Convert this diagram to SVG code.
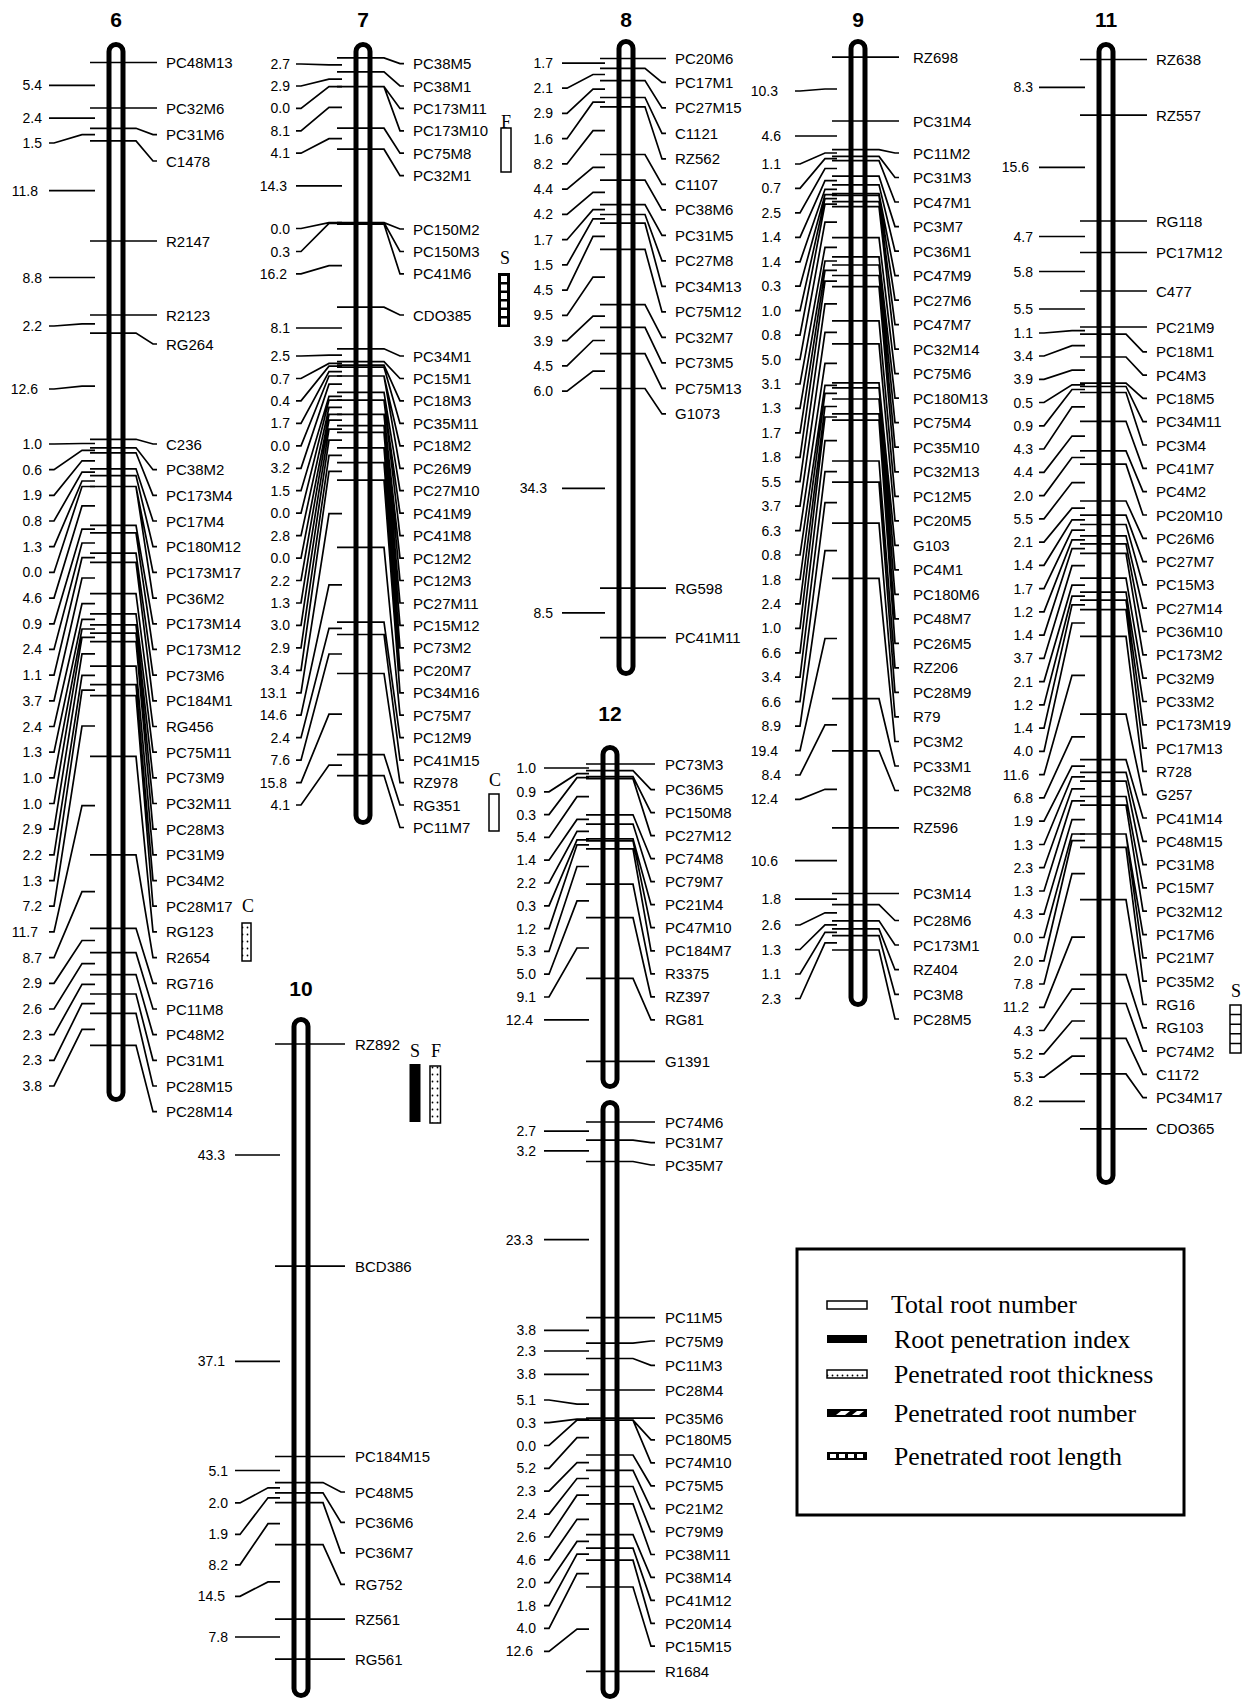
<svg xmlns="http://www.w3.org/2000/svg" width="1252" height="1703" viewBox="0 0 1252 1703">
<style>
.ttl{font:bold 21px "Liberation Sans",Arial,sans-serif;text-anchor:middle;fill:#000}
.m text{font:15px "Liberation Sans",Arial,sans-serif;fill:#000;dominant-baseline:central}
.d text{font:14px "Liberation Sans",Arial,sans-serif;fill:#000;text-anchor:end;dominant-baseline:central}
.tube{fill:#fff;stroke:#000;stroke-width:5}
.cn path{fill:none;stroke:#000;stroke-width:1.7}
.q{font:18px "Liberation Serif","Times New Roman",serif;text-anchor:middle;fill:#000}
.lg{font:25.8px "Liberation Serif","Times New Roman",serif;fill:#000;dominant-baseline:central}
</style>
<defs>
<pattern id="dots" width="5" height="7" patternUnits="userSpaceOnUse"><rect width="5" height="7" fill="#fff"/><circle cx="2.5" cy="3.5" r="0.9" fill="#000"/></pattern>
</defs>
<rect width="1252" height="1703" fill="#fff"/>

<g id="chr6" transform="translate(116 0)">
<text class="ttl" x="0" y="27">6</text>
<rect class="tube" x="-7" y="44.5" width="14" height="1055" rx="7"/>
<g class="m">
<text x="50" y="62.5">PC48M13</text><text x="50" y="108">PC32M6</text><text x="50" y="134.6">PC31M6</text><text x="50" y="161">C1478</text><text x="50" y="241">R2147</text><text x="50" y="315">R2123</text><text x="50" y="344">RG264</text><text x="50" y="444">C236</text><text x="50" y="469.7">PC38M2</text><text x="50" y="495.4">PC173M4</text><text x="50" y="521">PC17M4</text><text x="50" y="546.7">PC180M12</text><text x="50" y="572.4">PC173M17</text><text x="50" y="598.1">PC36M2</text><text x="50" y="623.8">PC173M14</text><text x="50" y="649.4">PC173M12</text><text x="50" y="675.1">PC73M6</text><text x="50" y="700.8">PC184M1</text><text x="50" y="726.5">RG456</text><text x="50" y="752.2">PC75M11</text><text x="50" y="777.8">PC73M9</text><text x="50" y="803.5">PC32M11</text><text x="50" y="829.2">PC28M3</text><text x="50" y="854.9">PC31M9</text><text x="50" y="880.6">PC34M2</text><text x="50" y="906.2">PC28M17</text><text x="50" y="931.9">RG123</text><text x="50" y="957.6">R2654</text><text x="50" y="983.3">RG716</text><text x="50" y="1009">PC11M8</text><text x="50" y="1034.6">PC48M2</text><text x="50" y="1060.3">PC31M1</text><text x="50" y="1086">PC28M15</text><text x="50" y="1111.7">PC28M14</text>
</g>
<g class="d">
<text x="-74" y="85.3">5.4</text><text x="-74" y="118.2">2.4</text><text x="-74" y="143">1.5</text><text x="-78" y="190.7">11.8</text><text x="-74" y="277.5">8.8</text><text x="-74" y="326">2.2</text><text x="-78" y="389">12.6</text><text x="-74" y="444">1.0</text><text x="-74" y="469.7">0.6</text><text x="-74" y="495.4">1.9</text><text x="-74" y="521">0.8</text><text x="-74" y="546.7">1.3</text><text x="-74" y="572.4">0.0</text><text x="-74" y="598.1">4.6</text><text x="-74" y="623.8">0.9</text><text x="-74" y="649.4">2.4</text><text x="-74" y="675.1">1.1</text><text x="-74" y="700.8">3.7</text><text x="-74" y="726.5">2.4</text><text x="-74" y="752.2">1.3</text><text x="-74" y="777.8">1.0</text><text x="-74" y="803.5">1.0</text><text x="-74" y="829.2">2.9</text><text x="-74" y="854.9">2.2</text><text x="-74" y="880.6">1.3</text><text x="-74" y="906.2">7.2</text><text x="-78" y="931.9">11.7</text><text x="-74" y="957.6">8.7</text><text x="-74" y="983.3">2.9</text><text x="-74" y="1009">2.6</text><text x="-74" y="1034.6">2.3</text><text x="-74" y="1060.3">2.3</text><text x="-74" y="1086">3.8</text>
</g>
</g>

<g id="chr7" transform="translate(363 0)">
<text class="ttl" x="0" y="27">7</text>
<rect class="tube" x="-7" y="44.5" width="14" height="778" rx="7"/>
<g class="m">
<text x="50" y="63.6">PC38M5</text><text x="50" y="86">PC38M1</text><text x="50" y="108.4">PC173M11</text><text x="50" y="130.8">PC173M10</text><text x="50" y="153.2">PC75M8</text><text x="50" y="175.6">PC32M1</text><text x="50" y="229">PC150M2</text><text x="50" y="251.5">PC150M3</text><text x="50" y="273.9">PC41M6</text><text x="50" y="315">CDO385</text><text x="50" y="356">PC34M1</text><text x="50" y="378.5">PC15M1</text><text x="50" y="400.9">PC18M3</text><text x="50" y="423.4">PC35M11</text><text x="50" y="445.8">PC18M2</text><text x="50" y="468.3">PC26M9</text><text x="50" y="490.7">PC27M10</text><text x="50" y="513.2">PC41M9</text><text x="50" y="535.6">PC41M8</text><text x="50" y="558.1">PC12M2</text><text x="50" y="580.5">PC12M3</text><text x="50" y="603">PC27M11</text><text x="50" y="625.4">PC15M12</text><text x="50" y="647.9">PC73M2</text><text x="50" y="670.3">PC20M7</text><text x="50" y="692.8">PC34M16</text><text x="50" y="715.2">PC75M7</text><text x="50" y="737.7">PC12M9</text><text x="50" y="760.1">PC41M15</text><text x="50" y="782.6">RZ978</text><text x="50" y="805">RG351</text><text x="50" y="827.5">PC11M7</text>
</g>
<g class="d">
<text x="-73" y="64">2.7</text><text x="-73" y="86">2.9</text><text x="-73" y="108.4">0.0</text><text x="-73" y="130.8">8.1</text><text x="-73" y="153.2">4.1</text><text x="-76" y="185.9">14.3</text><text x="-73" y="228.5">0.0</text><text x="-73" y="251.5">0.3</text><text x="-76" y="273.9">16.2</text><text x="-73" y="328">8.1</text><text x="-73" y="356">2.5</text><text x="-73" y="378.5">0.7</text><text x="-73" y="400.9">0.4</text><text x="-73" y="423.4">1.7</text><text x="-73" y="445.8">0.0</text><text x="-73" y="468.3">3.2</text><text x="-73" y="490.7">1.5</text><text x="-73" y="513.2">0.0</text><text x="-73" y="535.6">2.8</text><text x="-73" y="558.1">0.0</text><text x="-73" y="580.5">2.2</text><text x="-73" y="603">1.3</text><text x="-73" y="625.4">3.0</text><text x="-73" y="647.9">2.9</text><text x="-73" y="670.3">3.4</text><text x="-76" y="692.8">13.1</text><text x="-76" y="715.2">14.6</text><text x="-73" y="737.7">2.4</text><text x="-73" y="760.1">7.6</text><text x="-76" y="782.6">15.8</text><text x="-73" y="805">4.1</text>
</g>
</g>

<g id="chr8" transform="translate(626 0)">
<text class="ttl" x="0" y="27">8</text>
<rect class="tube" x="-7" y="41.5" width="14" height="632" rx="7"/>
<g class="m">
<text x="49" y="58.5">PC20M6</text><text x="49" y="82.4">PC17M1</text><text x="49" y="107.9">PC27M15</text><text x="49" y="133.4">C1121</text><text x="49" y="158.9">RZ562</text><text x="49" y="184.4">C1107</text><text x="49" y="209.9">PC38M6</text><text x="49" y="235.4">PC31M5</text><text x="49" y="260.9">PC27M8</text><text x="49" y="286.4">PC34M13</text><text x="49" y="311.9">PC75M12</text><text x="49" y="337.4">PC32M7</text><text x="49" y="362.9">PC73M5</text><text x="49" y="388.4">PC75M13</text><text x="49" y="413.9">G1073</text><text x="49" y="588.1">RG598</text><text x="49" y="637.6">PC41M11</text>
</g>
<g class="d">
<text x="-73" y="63.2">1.7</text><text x="-73" y="88.2">2.1</text><text x="-73" y="113.4">2.9</text><text x="-73" y="138.7">1.6</text><text x="-73" y="163.9">8.2</text><text x="-73" y="189.2">4.4</text><text x="-73" y="214.4">4.2</text><text x="-73" y="239.7">1.7</text><text x="-73" y="264.9">1.5</text><text x="-73" y="290.2">4.5</text><text x="-73" y="315.4">9.5</text><text x="-73" y="340.7">3.9</text><text x="-73" y="365.9">4.5</text><text x="-73" y="391.2">6.0</text><text x="-79" y="488.3">34.3</text><text x="-73" y="612.9">8.5</text>
</g>
</g>

<g id="chr9" transform="translate(858 0)">
<text class="ttl" x="0" y="27">9</text>
<rect class="tube" x="-7" y="41.5" width="14" height="963" rx="7"/>
<g class="m">
<text x="55" y="57.1">RZ698</text><text x="55" y="121">PC31M4</text><text x="55" y="153">PC11M2</text><text x="55" y="177.5">PC31M3</text><text x="55" y="202">PC47M1</text><text x="55" y="226.6">PC3M7</text><text x="55" y="251.1">PC36M1</text><text x="55" y="275.6">PC47M9</text><text x="55" y="300.1">PC27M6</text><text x="55" y="324.6">PC47M7</text><text x="55" y="349.2">PC32M14</text><text x="55" y="373.7">PC75M6</text><text x="55" y="398.2">PC180M13</text><text x="55" y="422.7">PC75M4</text><text x="55" y="447.2">PC35M10</text><text x="55" y="471.8">PC32M13</text><text x="55" y="496.3">PC12M5</text><text x="55" y="520.8">PC20M5</text><text x="55" y="545.3">G103</text><text x="55" y="569.8">PC4M1</text><text x="55" y="594.3">PC180M6</text><text x="55" y="618.9">PC48M7</text><text x="55" y="643.4">PC26M5</text><text x="55" y="667.9">RZ206</text><text x="55" y="692.4">PC28M9</text><text x="55" y="716.9">R79</text><text x="55" y="741.5">PC3M2</text><text x="55" y="766">PC33M1</text><text x="55" y="790.5">PC32M8</text><text x="55" y="827.8">RZ596</text><text x="55" y="893.5">PC3M14</text><text x="55" y="920.5">PC28M6</text><text x="55" y="945">PC173M1</text><text x="55" y="969.7">RZ404</text><text x="55" y="994.4">PC3M8</text><text x="55" y="1019">PC28M5</text>
</g>
<g class="d">
<text x="-80" y="91">10.3</text><text x="-77" y="136">4.6</text><text x="-77" y="164">1.1</text><text x="-77" y="188.4">0.7</text><text x="-77" y="212.9">2.5</text><text x="-77" y="237.3">1.4</text><text x="-77" y="261.8">1.4</text><text x="-77" y="286.2">0.3</text><text x="-77" y="310.6">1.0</text><text x="-77" y="335.1">0.8</text><text x="-77" y="359.5">5.0</text><text x="-77" y="384">3.1</text><text x="-77" y="408.4">1.3</text><text x="-77" y="432.8">1.7</text><text x="-77" y="457.3">1.8</text><text x="-77" y="481.7">5.5</text><text x="-77" y="506.2">3.7</text><text x="-77" y="530.6">6.3</text><text x="-77" y="555">0.8</text><text x="-77" y="579.5">1.8</text><text x="-77" y="603.9">2.4</text><text x="-77" y="628.4">1.0</text><text x="-77" y="652.8">6.6</text><text x="-77" y="677.2">3.4</text><text x="-77" y="701.7">6.6</text><text x="-77" y="726.1">8.9</text><text x="-80" y="750.6">19.4</text><text x="-77" y="775">8.4</text><text x="-80" y="799.4">12.4</text><text x="-80" y="860.7">10.6</text><text x="-77" y="899.1">1.8</text><text x="-77" y="925">2.6</text><text x="-77" y="949.5">1.3</text><text x="-77" y="974">1.1</text><text x="-77" y="998.5">2.3</text>
</g>
</g>

<g id="chr11" transform="translate(1106 0)">
<text class="ttl" x="0" y="27">11</text>
<rect class="tube" x="-7" y="44.5" width="14" height="1138" rx="7"/>
<g class="m">
<text x="50" y="59.5">RZ638</text><text x="50" y="115.1">RZ557</text><text x="50" y="221">RG118</text><text x="50" y="252.5">PC17M12</text><text x="50" y="291">C477</text><text x="50" y="327">PC21M9</text><text x="50" y="351.8">PC18M1</text><text x="50" y="375.1">PC4M3</text><text x="50" y="398.4">PC18M5</text><text x="50" y="421.7">PC34M11</text><text x="50" y="445">PC3M4</text><text x="50" y="468.4">PC41M7</text><text x="50" y="491.7">PC4M2</text><text x="50" y="515">PC20M10</text><text x="50" y="538.3">PC26M6</text><text x="50" y="561.6">PC27M7</text><text x="50" y="584.9">PC15M3</text><text x="50" y="608.2">PC27M14</text><text x="50" y="631.5">PC36M10</text><text x="50" y="654.8">PC173M2</text><text x="50" y="678.1">PC32M9</text><text x="50" y="701.5">PC33M2</text><text x="50" y="724.8">PC173M19</text><text x="50" y="748.1">PC17M13</text><text x="50" y="771.4">R728</text><text x="50" y="794.7">G257</text><text x="50" y="818">PC41M14</text><text x="50" y="841.3">PC48M15</text><text x="50" y="864.6">PC31M8</text><text x="50" y="887.9">PC15M7</text><text x="50" y="911.2">PC32M12</text><text x="50" y="934.6">PC17M6</text><text x="50" y="957.9">PC21M7</text><text x="50" y="981.2">PC35M2</text><text x="50" y="1004.5">RG16</text><text x="50" y="1027.8">RG103</text><text x="50" y="1051.1">PC74M2</text><text x="50" y="1074.4">C1172</text><text x="50" y="1097.7">PC34M17</text><text x="50" y="1128.8">CDO365</text>
</g>
<g class="d">
<text x="-73" y="87.3">8.3</text><text x="-77" y="167.4">15.6</text><text x="-73" y="236.5">4.7</text><text x="-73" y="271.5">5.8</text><text x="-73" y="309">5.5</text><text x="-73" y="333">1.1</text><text x="-73" y="356">3.4</text><text x="-73" y="379.3">3.9</text><text x="-73" y="402.5">0.5</text><text x="-73" y="425.8">0.9</text><text x="-73" y="449">4.3</text><text x="-73" y="472.3">4.4</text><text x="-73" y="495.6">2.0</text><text x="-73" y="518.8">5.5</text><text x="-73" y="542.1">2.1</text><text x="-73" y="565.3">1.4</text><text x="-73" y="588.6">1.7</text><text x="-73" y="611.9">1.2</text><text x="-73" y="635.1">1.4</text><text x="-73" y="658.4">3.7</text><text x="-73" y="681.6">2.1</text><text x="-73" y="704.9">1.2</text><text x="-73" y="728.2">1.4</text><text x="-73" y="751.4">4.0</text><text x="-77" y="774.7">11.6</text><text x="-73" y="797.9">6.8</text><text x="-73" y="821.2">1.9</text><text x="-73" y="844.5">1.3</text><text x="-73" y="867.7">2.3</text><text x="-73" y="891">1.3</text><text x="-73" y="914.2">4.3</text><text x="-73" y="937.5">0.0</text><text x="-73" y="960.8">2.0</text><text x="-73" y="984">7.8</text><text x="-77" y="1007.3">11.2</text><text x="-73" y="1030.5">4.3</text><text x="-73" y="1053.8">5.2</text><text x="-73" y="1077.1">5.3</text><text x="-73" y="1101.4">8.2</text>
</g>
</g>

<g id="chr12" transform="translate(610 0)">
<text class="ttl" x="0" y="721">12</text>
<rect class="tube" x="-7" y="747.5" width="14" height="339" rx="7"/>
<rect class="tube" x="-7" y="1102.5" width="14" height="594" rx="7"/>
<g class="m">
<text x="55" y="764">PC73M3</text><text x="55" y="789.6">PC36M5</text><text x="55" y="812.6">PC150M8</text><text x="55" y="835.6">PC27M12</text><text x="55" y="858.7">PC74M8</text><text x="55" y="881.7">PC79M7</text><text x="55" y="904.7">PC21M4</text><text x="55" y="927.7">PC47M10</text><text x="55" y="950.8">PC184M7</text><text x="55" y="973.8">R3375</text><text x="55" y="996.8">RZ397</text><text x="55" y="1019.8">RG81</text><text x="55" y="1061.3">G1391</text>
<text x="55" y="1122">PC74M6</text><text x="55" y="1142.7">PC31M7</text><text x="55" y="1165">PC35M7</text><text x="55" y="1317.6">PC11M5</text><text x="55" y="1341">PC75M9</text><text x="55" y="1365.3">PC11M3</text><text x="55" y="1390">PC28M4</text><text x="55" y="1418.1">PC35M6</text><text x="55" y="1439.9">PC180M5</text><text x="55" y="1462.8">PC74M10</text><text x="55" y="1485.8">PC75M5</text><text x="55" y="1508.7">PC21M2</text><text x="55" y="1531.6">PC79M9</text><text x="55" y="1554.5">PC38M11</text><text x="55" y="1577.4">PC38M14</text><text x="55" y="1600.4">PC41M12</text><text x="55" y="1623.3">PC20M14</text><text x="55" y="1646.2">PC15M15</text><text x="55" y="1671.4">R1684</text>
</g>
<g class="d">
<text x="-74" y="768">1.0</text><text x="-74" y="791.8">0.9</text><text x="-74" y="814.6">0.3</text><text x="-74" y="837.4">5.4</text><text x="-74" y="860.2">1.4</text><text x="-74" y="883">2.2</text><text x="-74" y="905.8">0.3</text><text x="-74" y="928.6">1.2</text><text x="-74" y="951.4">5.3</text><text x="-74" y="974.2">5.0</text><text x="-74" y="997">9.1</text><text x="-77" y="1019.9">12.4</text>
<text x="-74" y="1131.1">2.7</text><text x="-74" y="1150.8">3.2</text><text x="-77" y="1239.6">23.3</text><text x="-74" y="1330.4">3.8</text><text x="-74" y="1351">2.3</text><text x="-74" y="1374.3">3.8</text><text x="-74" y="1400">5.1</text><text x="-74" y="1422.6">0.3</text><text x="-74" y="1445.5">0.0</text><text x="-74" y="1468.4">5.2</text><text x="-74" y="1491.2">2.3</text><text x="-74" y="1514.1">2.4</text><text x="-74" y="1537">2.6</text><text x="-74" y="1559.8">4.6</text><text x="-74" y="1582.7">2.0</text><text x="-74" y="1605.6">1.8</text><text x="-74" y="1628.4">4.0</text><text x="-77" y="1651.3">12.6</text>
</g>
</g>

<g id="chr10" transform="translate(301 0)">
<text class="ttl" x="0" y="996">10</text>
<rect class="tube" x="-7" y="1019.5" width="14" height="676" rx="7"/>
<g class="m">
<text x="54" y="1044">RZ892</text><text x="54" y="1266.1">BCD386</text><text x="54" y="1456.5">PC184M15</text><text x="54" y="1492">PC48M5</text><text x="54" y="1522.4">PC36M6</text><text x="54" y="1552.8">PC36M7</text><text x="54" y="1584.3">RG752</text><text x="54" y="1619.1">RZ561</text><text x="54" y="1659.1">RG561</text>
</g>
<g class="d">
<text x="-76" y="1155">43.3</text><text x="-76" y="1361.3">37.1</text><text x="-73" y="1470.5">5.1</text><text x="-73" y="1502.9">2.0</text><text x="-73" y="1534.4">1.9</text><text x="-73" y="1564.8">8.2</text><text x="-76" y="1596.3">14.5</text><text x="-73" y="1637">7.8</text>
</g>
</g>

<g id="qtl">
<text class="q" x="248" y="912">C</text>
<rect x="242" y="923" width="9" height="38" fill="url(#dots)" stroke="#000" stroke-width="1.5"/>
<text class="q" x="506" y="128">F</text>
<rect x="501" y="128" width="10" height="44" fill="#fff" stroke="#000" stroke-width="1.5"/>
<text class="q" x="505" y="264" font-style="italic">S</text>
<rect x="498" y="273" width="12" height="54" fill="#000"/>
<g fill="#fff"><rect x="501" y="276" width="6" height="6"/><rect x="501" y="284.5" width="6" height="6"/><rect x="501" y="293" width="6" height="6"/><rect x="501" y="301.5" width="6" height="6"/><rect x="501" y="310" width="6" height="6"/><rect x="501" y="318.5" width="6" height="6"/></g>
<text class="q" x="495" y="786">C</text>
<rect x="489" y="794" width="10" height="37" fill="#fff" stroke="#000" stroke-width="1.5"/>
<text class="q" x="415" y="1057">S</text>
<rect x="409.5" y="1064" width="11" height="58" fill="#000"/>
<text class="q" x="436" y="1057">F</text>
<rect x="430" y="1066" width="10.5" height="57" fill="url(#dots)" stroke="#000" stroke-width="1.5"/>
<text class="q" x="1236" y="997" font-style="italic">S</text>
<rect x="1230" y="1005" width="11" height="48" fill="#fff" stroke="#000" stroke-width="1.5"/>
<path d="M1230 1014.6H1241M1230 1024.2H1241M1230 1033.8H1241M1230 1043.4H1241" stroke="#000" stroke-width="1.5"/>
</g>

<g id="legend">
<rect x="797" y="1249" width="387" height="266" fill="none" stroke="#000" stroke-width="3"/>
<rect x="827" y="1301" width="40" height="8" fill="#fff" stroke="#000" stroke-width="1.5"/>
<rect x="827" y="1335" width="40" height="8" fill="#000"/>
<rect x="827" y="1370" width="40" height="8" fill="url(#dots)" stroke="#000" stroke-width="1.5"/>
<rect x="827" y="1409" width="40" height="8" fill="#000"/>
<path d="M836 1415L841 1411H850L845 1415ZM852 1415L857 1411H864L859 1415Z" fill="#fff"/>
<rect x="827" y="1452" width="40" height="8" fill="#000"/>
<g fill="#fff"><rect x="830" y="1454" width="6" height="4"/><rect x="839" y="1454" width="6" height="4"/><rect x="848" y="1454" width="6" height="4"/><rect x="857" y="1454" width="6" height="4"/></g>
<text class="lg" x="891" y="1304">Total root number</text>
<text class="lg" x="894" y="1339">Root penetration index</text>
<text class="lg" x="894" y="1374">Penetrated root thickness</text>
<text class="lg" x="894" y="1413">Penetrated root number</text>
<text class="lg" x="894" y="1456">Penetrated root length</text>
</g>

<g id="connectors" class="cn">
<g transform="translate(116 0)">
<path d="M-26 62.5H41M-26 108H41M-26 128.3H20L37 134.6H41M-26 140.9H20L37 161H41M-26 241H41M-26 315H41M-26 333.1H20L37 344H41M-26 439.3H20L37 444H41M-26 447.8H20L37 469.7H41M-26 452.8H20L37 495.4H41M-26 468.8H20L37 521H41M-26 475.6H20L37 546.7H41M-26 486.5H20L37 572.4H41M-26 486.5H20L37 598.1H41M-26 525.3H20L37 623.8H41M-26 532.9H20L37 649.4H41M-26 553.1H20L37 675.1H41M-26 562.4H20L37 700.8H41M-26 593.6H20L37 726.5H41M-26 613.8H20L37 752.2H41M-26 624.8H20L37 777.8H41M-26 633.2H20L37 803.5H41M-26 641.6H20L37 829.2H41M-26 666.1H20L37 854.9H41M-26 684.6H20L37 880.6H41M-26 695.6H20L37 906.2H41M-26 756.3H20L37 931.9H41M-26 854.9H20L37 957.6H41M-26 928.3H20L37 983.3H41M-26 952.7H20L37 1009H41M-26 974.6H20L37 1034.6H41M-26 994H20L37 1060.3H41M-26 1013.4H20L37 1086H41M-26 1045.4H20L37 1111.7H41"/>
<path d="M-67 85.3H-21M-67 118.2H-21M-67 143H-62L-34 134.6H-21M-67 190.7H-21M-67 277.5H-21M-67 326H-62L-34 323.9H-21M-67 389H-62L-34 386.2H-21M-67 444H-62L-34 443.5H-21M-67 469.7H-62L-34 450.3H-21M-67 495.4H-62L-34 460.8H-21M-67 521H-62L-34 472.2H-21M-67 546.7H-62L-34 481H-21M-67 572.4H-62L-34 486.5H-21M-67 598.1H-62L-34 505.9H-21M-67 623.8H-62L-34 529.1H-21M-67 649.4H-62L-34 543H-21M-67 675.1H-62L-34 557.7H-21M-67 700.8H-62L-34 578H-21M-67 726.5H-62L-34 603.7H-21M-67 752.2H-62L-34 619.3H-21M-67 777.8H-62L-34 629H-21M-67 803.5H-62L-34 637.4H-21M-67 829.2H-62L-34 653.8H-21M-67 854.9H-62L-34 675.3H-21M-67 880.6H-62L-34 690.1H-21M-67 906.2H-62L-34 726H-21M-67 931.9H-62L-34 805.6H-21M-67 957.6H-62L-34 891.6H-21M-67 983.3H-62L-34 940.5H-21M-67 1009H-62L-34 963.6H-21M-67 1034.6H-62L-34 984.3H-21M-67 1060.3H-62L-34 1003.7H-21M-67 1086H-62L-34 1029.4H-21"/>
</g>
<g transform="translate(363 0)">
<path d="M-26 57.9H21L37 63.6H41M-26 71.8H21L37 86H41M-26 86.6H21L37 108.4H41M-26 86.6H21L37 130.8H41M-26 128.2H21L37 153.2H41M-26 149.2H21L37 175.6H41M-26 222.6H21L37 229H41M-26 222.6H21L37 251.5H41M-26 224.1H21L37 273.9H41M-26 307.2H21L37 315H41M-26 348.8H21L37 356H41M-26 361.6H21L37 378.5H41M-26 365.2H21L37 400.9H41M-26 367.2H21L37 423.4H41M-26 376H21L37 445.8H41M-26 376H21L37 468.3H41M-26 392.4H21L37 490.7H41M-26 400.1H21L37 513.2H41M-26 400.1H21L37 535.6H41M-26 414.4H21L37 558.1H41M-26 414.4H21L37 580.5H41M-26 425.7H21L37 603H41M-26 432.4H21L37 625.4H41M-26 447.8H21L37 647.9H41M-26 462.7H21L37 670.3H41M-26 480.1H21L37 692.8H41M-26 547.3H21L37 715.2H41M-26 622.2H21L37 737.7H41M-26 634.5H21L37 760.1H41M-26 673.5H21L37 782.6H41M-26 754.6H21L37 805H41M-26 775.6H21L37 827.5H41"/>
<path d="M-67 64H-62L-34 64.9H-21M-67 86H-62L-34 79.2H-21M-67 108.4H-62L-34 86.6H-21M-67 130.8H-62L-34 107.4H-21M-67 153.2H-62L-34 138.7H-21M-67 185.9H-21M-67 228.5H-62L-34 222.6H-21M-67 251.5H-62L-34 223.4H-21M-67 273.9H-62L-34 265.7H-21M-67 328H-21M-67 356H-62L-34 355.2H-21M-67 378.5H-62L-34 363.4H-21M-67 400.9H-62L-34 366.2H-21M-67 423.4H-62L-34 371.6H-21M-67 445.8H-62L-34 376H-21M-67 468.3H-62L-34 384.2H-21M-67 490.7H-62L-34 396.3H-21M-67 513.2H-62L-34 400.1H-21M-67 535.6H-62L-34 407.3H-21M-67 558.1H-62L-34 414.4H-21M-67 580.5H-62L-34 420.1H-21M-67 603H-62L-34 429.1H-21M-67 625.4H-62L-34 440.1H-21M-67 647.9H-62L-34 455.3H-21M-67 670.3H-62L-34 471.4H-21M-67 692.8H-62L-34 513.7H-21M-67 715.2H-62L-34 584.8H-21M-67 737.7H-62L-34 628.4H-21M-67 760.1H-62L-34 654H-21M-67 782.6H-62L-34 714.1H-21M-67 805H-62L-34 765.1H-21"/>
</g>
<g transform="translate(626 0)">
<path d="M-26 58.5H40M-26 68.4H19L36 82.4H40M-26 80.6H19L36 107.9H40M-26 97.5H19L36 133.4H40M-26 106.8H19L36 158.9H40M-26 154.5H19L36 184.4H40M-26 180.1H19L36 209.9H40M-26 204.6H19L36 235.4H40M-26 214.5H19L36 260.9H40M-26 223.2H19L36 286.4H40M-26 249.4H19L36 311.9H40M-26 304.7H19L36 337.4H40M-26 327.4H19L36 362.9H40M-26 353.6H19L36 388.4H40M-26 388.5H19L36 413.9H40M-26 588.1H40M-26 637.6H40"/>
<path d="M-64 63.2H-21M-64 88.2H-59L-33 74.5H-21M-64 113.4H-59L-33 89.1H-21M-64 138.7H-59L-33 102.2H-21M-64 163.9H-59L-33 130.7H-21M-64 189.2H-59L-33 167.3H-21M-64 214.4H-59L-33 192.4H-21M-64 239.7H-59L-33 209.6H-21M-64 264.9H-59L-33 218.9H-21M-64 290.2H-59L-33 236.3H-21M-64 315.4H-59L-33 277.1H-21M-64 340.7H-59L-33 316.1H-21M-64 365.9H-59L-33 340.5H-21M-64 391.2H-59L-33 371.1H-21M-64 488.3H-21M-64 612.9H-21"/>
</g>
<g transform="translate(858 0)">
<path d="M-26 57.1H41M-26 121H41M-26 149.6H21L37 153H41M-26 156.4H21L37 177.5H41M-26 160.7H21L37 202H41M-26 176.2H21L37 226.6H41M-26 184.9H21L37 251.1H41M-26 193.6H21L37 275.6H41M-26 195.5H21L37 300.1H41M-26 201.7H21L37 324.6H41M-26 206.6H21L37 349.2H41M-26 237.7H21L37 373.7H41M-26 256.9H21L37 398.2H41M-26 265H21L37 422.7H41M-26 275.5H21L37 447.2H41M-26 286.7H21L37 471.8H41M-26 320.8H21L37 496.3H41M-26 343.8H21L37 520.8H41M-26 382.9H21L37 545.3H41M-26 387.8H21L37 569.8H41M-26 399H21L37 594.3H41M-26 413.9H21L37 618.9H41M-26 420.1H21L37 643.4H41M-26 461H21L37 667.9H41M-26 482.1H21L37 692.4H41M-26 523.1H21L37 716.9H41M-26 578.3H21L37 741.5H41M-26 698.7H21L37 766H41M-26 750.8H21L37 790.5H41M-26 827.8H41M-26 893.5H41M-26 904.7H21L37 920.5H41M-26 920.8H21L37 945H41M-26 928.9H21L37 969.7H41M-26 935.7H21L37 994.4H41M-26 950H21L37 1019H41"/>
<path d="M-63 91H-58L-33 89H-21M-63 136H-21M-63 164H-58L-33 153H-21M-63 188.4H-58L-33 158.6H-21M-63 212.9H-58L-33 168.5H-21M-63 237.3H-58L-33 180.6H-21M-63 261.8H-58L-33 189.3H-21M-63 286.2H-58L-33 194.6H-21M-63 310.6H-58L-33 198.6H-21M-63 335.1H-58L-33 204.2H-21M-63 359.5H-58L-33 222.2H-21M-63 384H-58L-33 247.3H-21M-63 408.4H-58L-33 261H-21M-63 432.8H-58L-33 270.3H-21M-63 457.3H-58L-33 281.1H-21M-63 481.7H-58L-33 303.8H-21M-63 506.2H-58L-33 332.3H-21M-63 530.6H-58L-33 363.4H-21M-63 555H-58L-33 385.4H-21M-63 579.5H-58L-33 393.4H-21M-63 603.9H-58L-33 406.5H-21M-63 628.4H-58L-33 417H-21M-63 652.8H-58L-33 440.6H-21M-63 677.2H-58L-33 471.6H-21M-63 701.7H-58L-33 502.6H-21M-63 726.1H-58L-33 550.7H-21M-63 750.6H-58L-33 638.5H-21M-63 775H-58L-33 724.8H-21M-63 799.4H-58L-33 789.3H-21M-63 860.7H-21M-63 899.1H-21M-63 925H-58L-33 912.8H-21M-63 949.5H-58L-33 924.9H-21M-63 974H-58L-33 932.3H-21M-63 998.5H-58L-33 942.9H-21"/>
</g>
<g transform="translate(1106 0)">
<path d="M-26 59.5H41M-26 115.1H41M-26 221H41M-26 252.5H41M-26 291H41M-26 327H41M-26 334.2H20L37 351.8H41M-26 357H20L37 375.1H41M-26 383.1H20L37 398.4H41M-26 386.5H20L37 421.7H41M-26 392.5H20L37 445H41M-26 421.3H20L37 468.4H41M-26 450.8H20L37 491.7H41M-26 464.2H20L37 515H41M-26 501H20L37 538.3H41M-26 515.1H20L37 561.6H41M-26 524.5H20L37 584.9H41M-26 535.9H20L37 608.2H41M-26 543.9H20L37 631.5H41M-26 553.3H20L37 654.8H41M-26 578.1H20L37 678.1H41M-26 592.2H20L37 701.5H41M-26 600.2H20L37 724.8H41M-26 609.6H20L37 748.1H41M-26 636.4H20L37 771.4H41M-26 714.1H20L37 794.7H41M-26 759.7H20L37 818H41M-26 772.4H20L37 841.3H41M-26 781.1H20L37 864.6H41M-26 796.5H20L37 887.9H41M-26 805.2H20L37 911.2H41M-26 834H20L37 934.6H41M-26 834H20L37 957.9H41M-26 847.4H20L37 981.2H41M-26 899.7H20L37 1004.5H41M-26 974.7H20L37 1027.8H41M-26 1003.5H20L37 1051.1H41M-26 1038.4H20L37 1074.4H41M-26 1073.9H20L37 1097.7H41M-26 1128.8H41"/>
<path d="M-67 87.3H-21M-67 167.4H-21M-67 236.5H-21M-67 271.5H-21M-67 309H-21M-67 333H-62L-34 330.6H-21M-67 356H-62L-34 345.6H-21M-67 379.3H-62L-34 370.1H-21M-67 402.5H-62L-34 384.8H-21M-67 425.8H-62L-34 389.5H-21M-67 449H-62L-34 406.9H-21M-67 472.3H-62L-34 436.1H-21M-67 495.6H-62L-34 457.5H-21M-67 518.8H-62L-34 482.6H-21M-67 542.1H-62L-34 508.1H-21M-67 565.3H-62L-34 519.8H-21M-67 588.6H-62L-34 530.2H-21M-67 611.9H-62L-34 539.9H-21M-67 635.1H-62L-34 548.6H-21M-67 658.4H-62L-34 565.7H-21M-67 681.6H-62L-34 585.2H-21M-67 704.9H-62L-34 596.2H-21M-67 728.2H-62L-34 604.9H-21M-67 751.4H-62L-34 623H-21M-67 774.7H-62L-34 675.3H-21M-67 797.9H-62L-34 736.9H-21M-67 821.2H-62L-34 766.1H-21M-67 844.5H-62L-34 776.8H-21M-67 867.7H-62L-34 788.8H-21M-67 891H-62L-34 800.9H-21M-67 914.2H-62L-34 819.6H-21M-67 937.5H-62L-34 834H-21M-67 960.8H-62L-34 840.7H-21M-67 984H-62L-34 873.6H-21M-67 1007.3H-62L-34 937.2H-21M-67 1030.5H-62L-34 989.1H-21M-67 1053.8H-62L-34 1021H-21M-67 1077.1H-62L-34 1056.2H-21M-67 1101.4H-21"/>
</g>
<g transform="translate(610 0)">
<path d="M-24 764H45M-24 770.7H23L41 789.6H45M-24 776.7H23L41 812.6H45M-24 778.7H23L41 835.6H45M-24 814.8H23L41 858.7H45M-24 824.1H23L41 881.7H45M-24 838.8H23L41 904.7H45M-24 840.8H23L41 927.7H45M-24 848.8H23L41 950.8H45M-24 884.2H23L41 973.8H45M-24 917.6H23L41 996.8H45M-24 978.4H23L41 1019.8H45M-24 1061.3H45"/>
<path d="M-66 768H-21M-66 791.8H-61L-33 773.7H-21M-66 814.6H-61L-33 777.7H-21M-66 837.4H-61L-33 796.7H-21M-66 860.2H-61L-33 819.4H-21M-66 883H-61L-33 831.4H-21M-66 905.8H-61L-33 839.8H-21M-66 928.6H-61L-33 844.8H-21M-66 951.4H-61L-33 866.5H-21M-66 974.2H-61L-33 900.9H-21M-66 997H-61L-33 948H-21M-66 1019.9H-21"/>
<path d="M-24 1122H45M-24 1140.1H23L41 1142.7H45M-24 1161.5H23L41 1165H45M-24 1317.6H45M-24 1343.1H23L41 1341H45M-24 1358.5H23L41 1365.3H45M-24 1390H45M-24 1418.1H45M-24 1420.2H23L41 1439.9H45M-24 1420.2H23L41 1462.8H45M-24 1455H23L41 1485.8H45M-24 1470.4H23L41 1508.7H45M-24 1486.5H23L41 1531.6H45M-24 1503.9H23L41 1554.5H45M-24 1534.7H23L41 1577.4H45M-24 1548.1H23L41 1600.4H45M-24 1560.2H23L41 1623.3H45M-24 1587H23L41 1646.2H45M-24 1671.4H45"/>
<path d="M-66 1131.1H-21M-66 1150.8H-21M-66 1239.6H-21M-66 1330.4H-21M-66 1351H-21M-66 1374.3H-21M-66 1400H-61L-33 1404.1H-21M-66 1422.6H-61L-33 1419.2H-21M-66 1445.5H-61L-33 1420.2H-21M-66 1468.4H-61L-33 1437.6H-21M-66 1491.2H-61L-33 1462.7H-21M-66 1514.1H-61L-33 1478.5H-21M-66 1537H-61L-33 1495.2H-21M-66 1559.8H-61L-33 1519.3H-21M-66 1582.7H-61L-33 1541.4H-21M-66 1605.6H-61L-33 1554.2H-21M-66 1628.4H-61L-33 1573.6H-21M-66 1651.3H-61L-33 1629.2H-21"/>
</g>
<g transform="translate(301 0)">
<path d="M-26 1044H44M-26 1266.1H44M-26 1456.5H44M-26 1482.6H22L40 1492H44M-26 1492.9H22L40 1522.4H44M-26 1502.6H22L40 1552.8H44M-26 1544.7H22L40 1584.3H44M-26 1619.1H44M-26 1659.1H44"/>
<path d="M-66 1155H-21M-66 1361.3H-21M-66 1470.5H-21M-66 1502.9H-61L-33 1487.8H-21M-66 1534.4H-61L-33 1497.8H-21M-66 1564.8H-61L-33 1523.7H-21M-66 1596.3H-61L-33 1581.9H-21M-66 1637H-21"/>
</g>
</g>
</svg>
